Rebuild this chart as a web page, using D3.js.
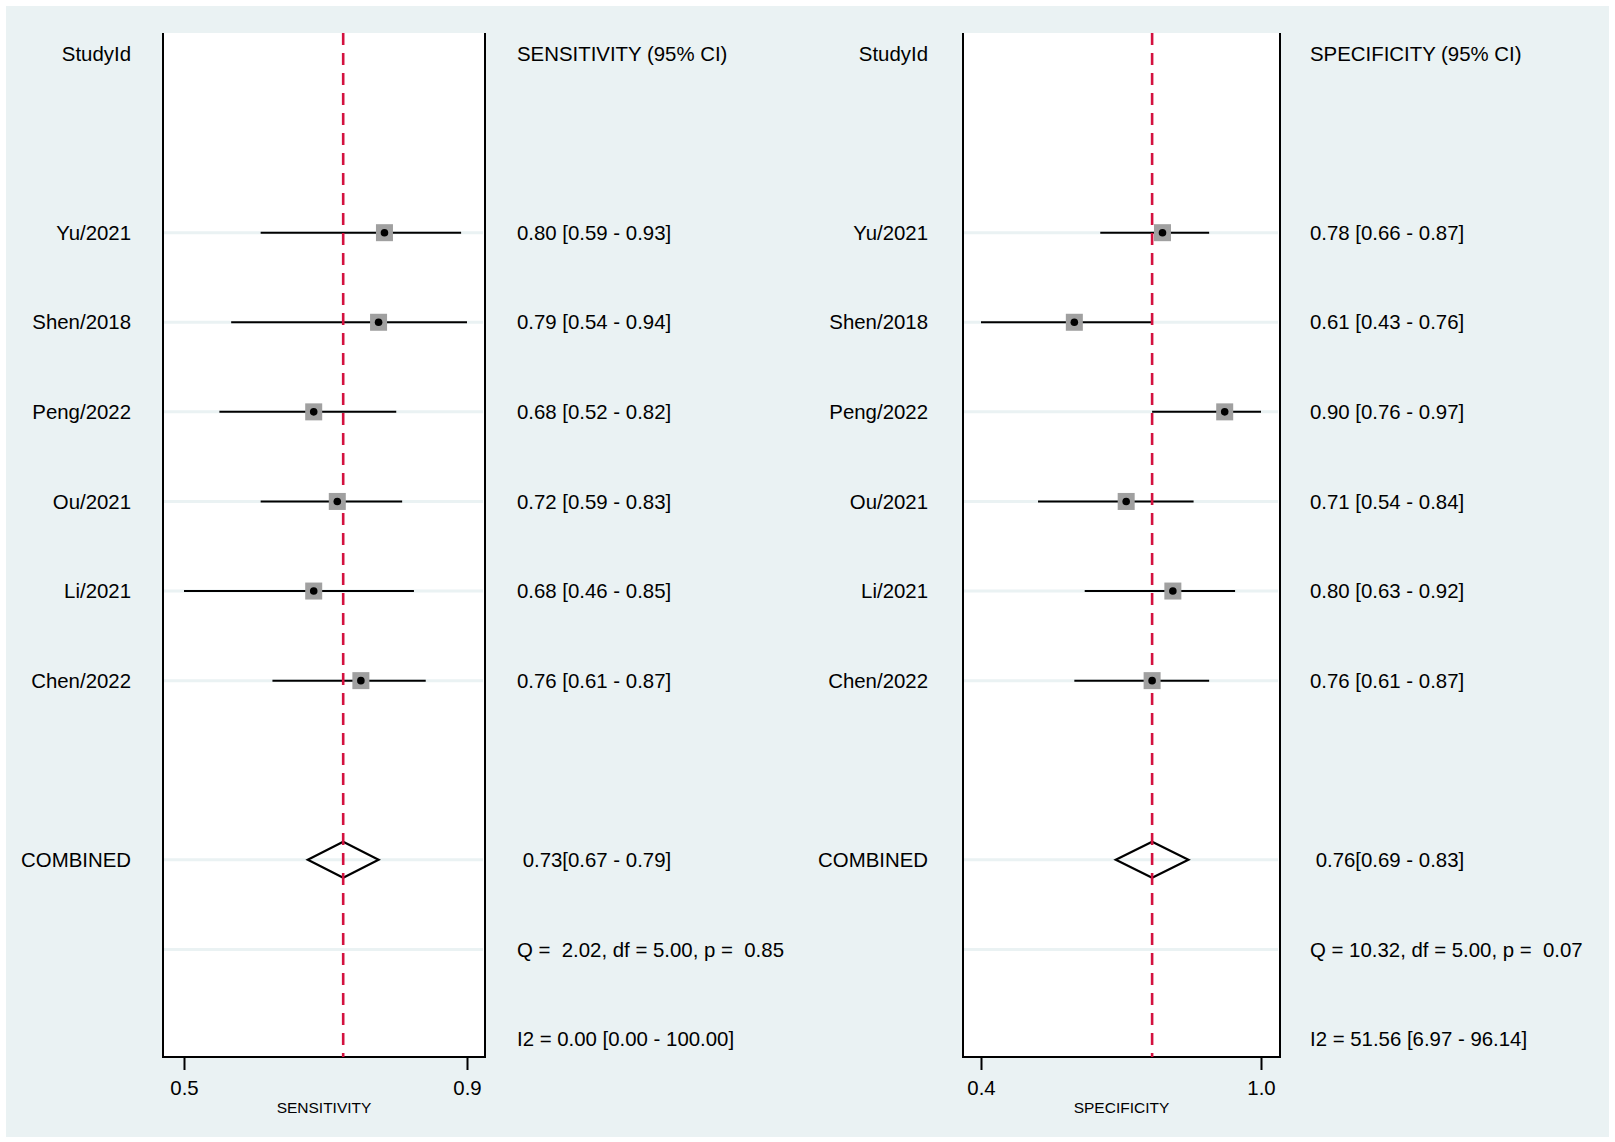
<!DOCTYPE html>
<html>
<head>
<meta charset="utf-8">
<script src="https://cdn.jsdelivr.net/npm/d3@7"></script>
<style>
  body { margin: 0; background: #fff; }
  text { font-family: "Liberation Sans", Arial, sans-serif; fill: #000; white-space: pre; }
</style>
</head>
<body>
<svg id="chart" width="1615" height="1142"></svg>
<script>
// studies, top to bottom
var studies = ["Yu/2021", "Shen/2018", "Peng/2022", "Ou/2021", "Li/2021", "Chen/2022"];

// sensitivity per study
var sensEst = [0.80, 0.79, 0.68, 0.72, 0.68, 0.76];
var sensLo  = [0.59, 0.54, 0.52, 0.59, 0.46, 0.61];
var sensHi  = [0.93, 0.94, 0.82, 0.83, 0.85, 0.87];
var sensPooled = [0.73, 0.67, 0.79];   // estimate, lower, upper
var sensQ = "Q =  2.02, df = 5.00, p =  0.85";
var sensI2 = "I2 = 0.00 [0.00 - 100.00]";

// specificity per study
var specEst = [0.78, 0.61, 0.90, 0.71, 0.80, 0.76];
var specLo  = [0.66, 0.43, 0.76, 0.54, 0.63, 0.61];
var specHi  = [0.87, 0.76, 0.97, 0.84, 0.92, 0.87];
var specPooled = [0.76, 0.69, 0.83];
var specQ = "Q = 10.32, df = 5.00, p =  0.07";
var specI2 = "I2 = 51.56 [6.97 - 96.14]";

var svg = d3.select("#chart");

// outer light bluish-gray background
svg.append("rect")
    .attr("x", 6).attr("y", 6)
    .attr("width", 1603).attr("height", 1131)
    .attr("fill", "#eaf2f3");

// rows: 0 header, 2..7 studies, 9 combined, 10 Q, 11 I2
var row = d3.scaleLinear().domain([0, 11]).range([53.5, 1039]);
var f2 = d3.format(".2f");
var fontSize = "20.4px";

function panel(opt) {
    var lo = d3.min(opt.lo), hi = d3.max(opt.hi);
    var x = d3.scaleLinear().domain([lo, hi]).range(opt.tickRange);
    var boxTop = 33, boxBottom = 1057;
    var g = svg.append("g");

    // white plot region
    g.append("rect")
        .attr("x", opt.box[0]).attr("y", boxTop)
        .attr("width", opt.box[1] - opt.box[0]).attr("height", boxBottom - boxTop)
        .attr("fill", "#fff");

    // faint row lines
    var lineRows = d3.range(2, 8).concat([9, 10]);
    g.selectAll("line.rowline")
        .data(lineRows)
        .enter().append("line")
        .attr("x1", opt.box[0]).attr("x2", opt.box[1] - 2)
        .attr("y1", function(d) { return row(d); })
        .attr("y2", function(d) { return row(d); })
        .attr("stroke", "#eaf2f3").attr("stroke-width", 3);

    // box sides
    g.append("path")
        .attr("d", "M" + opt.box[0] + "," + boxTop + "V" + boxBottom + "H" + opt.box[1] + "V" + boxTop)
        .attr("fill", "none").attr("stroke", "#000").attr("stroke-width", 2);

    var data = studies.map(function(s, i) {
        return { name: s, est: opt.est[i], lo: opt.lo[i], hi: opt.hi[i], r: i + 2 };
    });

    // confidence intervals
    g.selectAll("line.ci")
        .data(data)
        .enter().append("line")
        .attr("x1", function(d) { return x(d.lo); })
        .attr("x2", function(d) { return x(d.hi); })
        .attr("y1", function(d) { return row(d.r); })
        .attr("y2", function(d) { return row(d.r); })
        .attr("stroke", "#000").attr("stroke-width", 2);

    // pooled diamond
    var p = opt.pooled, cy = row(9);
    g.append("path")
        .attr("d", "M" + x(p[1]) + "," + cy + "L" + x(p[0]) + "," + (cy - 18) +
                   "L" + x(p[2]) + "," + cy + "L" + x(p[0]) + "," + (cy + 18) + "Z")
        .attr("fill", "none").attr("stroke", "#000").attr("stroke-width", 2.2);

    // pooled reference line
    g.append("line")
        .attr("x1", x(p[0])).attr("x2", x(p[0]))
        .attr("y1", boxTop).attr("y2", boxBottom)
        .attr("stroke", "#d3113f").attr("stroke-width", 2.6)
        .attr("stroke-dasharray", "12,8");

    // grey squares with black dots
    g.selectAll("rect.sq")
        .data(data)
        .enter().append("rect")
        .attr("x", function(d) { return x(d.est) - 8.5; })
        .attr("y", function(d) { return row(d.r) - 8.5; })
        .attr("width", 17).attr("height", 17)
        .attr("fill", "#a0a0a0");

    g.selectAll("circle.dot")
        .data(data)
        .enter().append("circle")
        .attr("cx", function(d) { return x(d.est); })
        .attr("cy", function(d) { return row(d.r); })
        .attr("r", 3.8)
        .attr("fill", "#000");

    // axis with min / max CI ticks
    var axis = d3.axisBottom(x)
        .tickValues([lo, hi])
        .tickFormat(d3.format(".1f"))
        .tickSize(13)
        .tickPadding(11);
    var ag = g.append("g")
        .attr("transform", "translate(0," + boxBottom + ")")
        .call(axis);
    ag.select(".domain").remove();
    ag.selectAll(".tick line").attr("stroke", "#000").attr("stroke-width", 2);
    ag.selectAll(".tick text")
        .style("font-family", "'Liberation Sans', Arial, sans-serif")
        .style("font-size", fontSize).attr("fill", "#000");

    g.append("text")
        .attr("x", (opt.box[0] + opt.box[1]) / 2).attr("y", 1112.5)
        .attr("text-anchor", "middle")
        .style("font-size", "15.5px")
        .text(opt.axisTitle);

    // left labels
    var labels = [{ t: "StudyId", r: 0 }].concat(
        data.map(function(d) { return { t: d.name, r: d.r }; }),
        [{ t: "COMBINED", r: 9 }]);
    g.selectAll("text.lab")
        .data(labels)
        .enter().append("text")
        .attr("x", opt.labelX)
        .attr("y", function(d) { return row(d.r); })
        .attr("dy", "0.35em")
        .attr("text-anchor", "end")
        .style("font-size", fontSize)
        .text(function(d) { return d.t; });

    // right statistics
    var stats = [{ t: opt.header, r: 0 }].concat(
        data.map(function(d) {
            return { t: f2(d.est) + " [" + f2(d.lo) + " - " + f2(d.hi) + "]", r: d.r };
        }),
        [{ t: " " + f2(p[0]) + "[" + f2(p[1]) + " - " + f2(p[2]) + "]", r: 9 },
         { t: opt.q, r: 10 },
         { t: opt.i2, r: 11 }]);
    g.selectAll("text.stat")
        .data(stats)
        .enter().append("text")
        .attr("x", opt.statX)
        .attr("y", function(d) { return row(d.r); })
        .attr("dy", "0.35em")
        .style("font-size", fontSize)
        .text(function(d) { return d.t; });
}

panel({
    est: sensEst, lo: sensLo, hi: sensHi, pooled: sensPooled,
    q: sensQ, i2: sensI2,
    header: "SENSITIVITY (95% CI)", axisTitle: "SENSITIVITY",
    box: [163, 485], tickRange: [184, 467], labelX: 131, statX: 517
});

panel({
    est: specEst, lo: specLo, hi: specHi, pooled: specPooled,
    q: specQ, i2: specI2,
    header: "SPECIFICITY (95% CI)", axisTitle: "SPECIFICITY",
    box: [963, 1280], tickRange: [981, 1261], labelX: 928, statX: 1310
});
</script>
</body>
</html>
